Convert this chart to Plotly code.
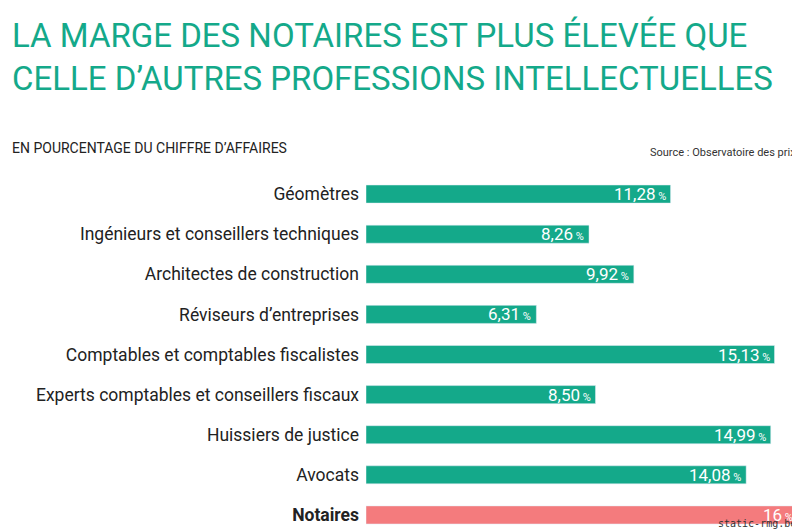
import plotly.graph_objects as go

categories = ["Géomètres", "Ingénieurs et conseillers techniques", "Architectes de construction",
              "Réviseurs d’entreprises", "Comptables et comptables fiscalistes",
              "Experts comptables et conseillers fiscaux", "Huissiers de justice", "Avocats", "Notaires"]
values = [11.28, 8.26, 9.92, 6.31, 15.13, 8.50, 14.99, 14.08, 16]
labels = ["11,28", "8,26", "9,92", "6,31", "15,13", "8,50", "14,99", "14,08", "16"]

teal = "#14a98a"
pink = "#f47b7d"
font = "Roboto, sans-serif"

colors = [pink if c == "Notaires" else teal for c in categories]
ticks = ["<b>%s</b>" % c if c == "Notaires" else c for c in categories]

fig = go.Figure(go.Bar(
    x=values, y=categories, orientation="h", marker_color=colors,
    hoverinfo="skip",
))

# value labels at the end of each bar
for c, v, l in zip(categories, values, labels):
    fig.add_annotation(x=v, y=c, xanchor="right", showarrow=False, xshift=-3,
                       text="%s<span style='font-size:11px'> %%</span>" % l,
                       font=dict(color="white", size=17, family=font))

fig.update_layout(
    width=800, height=529, plot_bgcolor="white", paper_bgcolor="white",
    margin=dict(l=358, r=10, t=166, b=2),
    bargap=0.55, showlegend=False,
    xaxis=dict(range=[0, 16], visible=False, fixedrange=True),
    yaxis=dict(autorange="reversed", tickvals=categories, ticktext=ticks, automargin=False,
               tickfont=dict(size=17.5, color="#222", family=font), ticks="", ticklabelstandoff=6),
)

fig.add_annotation(x=0, y=1, xref="paper", yref="paper", xanchor="left", yanchor="top",
                   xshift=-356, yshift=160, showarrow=False, align="left",
                   text="LA MARGE DES NOTAIRES EST PLUS ÉLEVÉE QUE<br>CELLE D’AUTRES PROFESSIONS INTELLECTUELLES",
                   font=dict(size=33, color=teal, family=font))
fig.add_annotation(x=0, y=1, xref="paper", yref="paper", xanchor="left", yanchor="top",
                   xshift=-356, yshift=36, showarrow=False,
                   text="EN POURCENTAGE DU CHIFFRE D’AFFAIRES",
                   font=dict(size=14, color="#222", family=font))
fig.add_annotation(x=1, y=1, xref="paper", yref="paper", xanchor="right", yanchor="top",
                   xshift=0, yshift=30, showarrow=False,
                   text="Source : Observatoire des prix",
                   font=dict(size=11, color="#333", family=font))
fig.add_annotation(x=1, y=0, xref="paper", yref="paper", xanchor="right", yanchor="bottom",
                   xshift=0, yshift=4, showarrow=False, text="static-rmg.be",
                   font=dict(size=10, color="#333", family="DejaVu Sans Mono"))

fig.write_html("out.html")
